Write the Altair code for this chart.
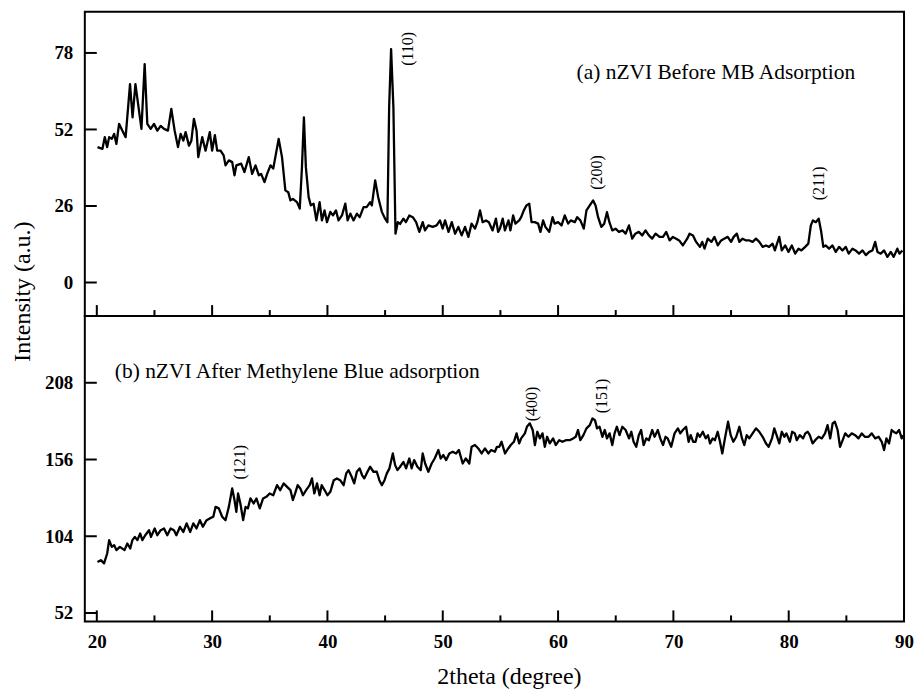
import altair as alt
import pandas as pd

# ---- XRD pattern (a): nZVI before MB adsorption ----
two_theta_a = [
    20.06, 20.49, 20.69, 20.9, 21.07, 21.3, 21.5, 21.7, 21.93, 22.22, 22.5, 22.88, 23.1, 23.35, 23.58,
    23.87, 24.15, 24.38, 24.67, 24.96, 25.25, 25.54, 25.83, 26.17, 26.46, 26.75, 27.04, 27.27, 27.5,
    27.7, 27.99, 28.2, 28.42, 28.65, 28.8, 29.14, 29.43, 29.8, 30.0, 30.24, 30.44, 30.73, 31.0, 31.16,
    31.45, 31.74, 31.94, 32.1, 32.52, 32.8, 33.18, 33.47, 33.76, 34.05, 34.25, 34.54, 34.77, 35.06,
    35.3, 35.77, 36.06, 36.35, 36.6, 36.79, 37.0, 37.36, 37.6, 37.79, 37.96, 38.13, 38.37, 38.56, 38.8,
    39.04, 39.32, 39.52, 39.75, 39.96, 40.25, 40.48, 40.74, 40.96, 41.26, 41.55, 41.75, 41.99, 42.26,
    42.55, 42.8, 43.13, 43.4, 43.7, 43.85, 44.14, 44.4, 44.72, 45.0, 45.2, 45.35, 45.52, 45.72, 45.9,
    46.1, 46.3, 46.59, 46.8, 47.1, 47.4, 47.69, 47.97, 48.26, 48.46, 48.75, 49.12, 49.47, 49.76, 49.99,
    50.2, 50.5, 50.78, 51.07, 51.35, 51.64, 51.93, 52.22, 52.5, 52.8, 53.0, 53.23, 53.46, 53.75, 54.0,
    54.32, 54.61, 54.8, 54.96, 55.2, 55.39, 55.7, 55.87, 56.1, 56.3, 56.63, 56.8, 57.03, 57.26, 57.5,
    57.7, 57.98, 58.27, 58.47, 58.7, 58.9, 59.23, 59.52, 59.7, 60.0, 60.3, 60.58, 60.87, 61.1, 61.45,
    61.65, 61.93, 62.23, 62.46, 62.75, 63.04, 63.25, 63.47, 63.75, 64.0, 64.24, 64.45, 64.7, 64.98,
    65.28, 65.6, 65.86, 66.15, 66.43, 66.7, 67.0, 67.3, 67.58, 67.87, 68.16, 68.45, 68.8, 69.1, 69.38,
    69.67, 69.96, 70.24, 70.5, 70.82, 71.2, 71.4, 71.7, 71.97, 72.3, 72.5, 72.7, 72.98, 73.3, 73.56,
    73.85, 74.14, 74.4, 74.71, 75.0, 75.23, 75.5, 75.72, 76.0, 76.3, 76.6, 76.87, 77.16, 77.45, 77.74,
    78.03, 78.3, 78.6, 78.8, 79.18, 79.4, 79.7, 79.98, 80.27, 80.56, 80.85, 81.1, 81.43, 81.7, 81.92,
    82.1, 82.35, 82.6, 82.8, 83.0, 83.2, 83.5, 83.8, 84.08, 84.37, 84.66, 84.95, 85.2, 85.53, 85.8,
    86.1, 86.4, 86.69, 86.98, 87.26, 87.5, 87.7, 87.98, 88.27, 88.56, 88.85, 89.1, 89.42, 89.6, 89.86,
]
intensity_a = [
    46.0, 45.4, 49.4, 46.0, 49.4, 48.8, 50.5, 47.1, 53.9, 51.6, 49.4, 67.4, 56.1, 67.4, 60.7,
    52.2, 74.2, 53.9, 52.2, 53.9, 51.6, 53.2, 52.2, 51.6, 59.0, 51.6, 46.0, 50.5, 48.2,
    51.1, 46.5, 48.2, 55.6, 51.6, 42.6, 49.4, 44.8, 51.1, 44.8, 50.1, 44.8, 44.8, 43.2, 39.8,
    41.5, 40.9, 36.4, 39.8, 40.4, 37.5, 42.6, 36.9, 39.8, 36.4, 36.9, 34.1, 36.9, 39.8,
    38.7, 48.8, 42.6, 31.3, 30.7, 27.9, 28.4, 27.3, 25.1, 39.2, 56.1, 39.2, 29.0, 26.2, 26.8,
    21.1, 27.3, 21.1, 24.5, 20.5, 24.0, 22.8, 24.5, 21.1, 22.8, 26.8, 21.1, 23.4, 21.1,
    23.4, 22.2, 25.6, 25.6, 27.3, 26.2, 34.7, 29.0, 24.0, 21.7, 20.5, 59.5, 79.3, 59.5, 16.6,
    20.5, 19.9, 21.7, 20.5, 22.8, 22.2, 20.5, 17.2, 20.5, 17.7, 19.4, 18.9, 19.4, 21.1, 18.3,
    21.1, 17.2, 20.5, 16.6, 18.9, 16.0, 18.9, 15.5, 20.0, 18.3, 20.5, 24.5, 20.5, 21.1, 20.5,
    17.7, 21.7, 17.2, 18.3, 21.7, 17.7, 21.1, 17.7, 22.8, 20.0, 21.1, 22.2, 24.5, 26.2, 26.8,
    20.5, 20.5, 20.0, 17.2, 21.1, 18.9, 17.2, 22.2, 20.0, 20.5, 19.4, 22.8, 20.0, 21.1, 20.5,
    22.2, 21.1, 18.3, 24.5, 26.2, 27.9, 26.2, 22.2, 18.9, 20.0, 23.9, 20.5, 17.7, 18.3,
    17.2, 17.7, 16.6, 19.4, 14.9, 16.6, 17.2, 16.0, 17.7, 16.0, 14.9, 16.6, 15.5, 15.5, 17.2,
    14.3, 15.5, 14.9, 14.3, 12.6, 14.9, 16.6, 16.0, 13.8, 12.1, 13.8, 11.5, 14.9, 13.8, 15.5,
    12.6, 14.3, 14.9, 15.5, 13.8, 15.5, 16.6, 13.8, 14.9, 14.3, 14.3, 13.8, 14.9, 13.8, 12.1,
    12.6, 12.1, 13.2, 10.9, 15.5, 10.9, 12.6, 10.4, 12.6, 9.8, 11.5, 10.9, 12.1, 13.2, 19.4,
    21.1, 20.5, 21.7, 17.7, 12.1, 12.6, 11.5, 12.6, 10.4, 12.1, 10.9, 12.1, 9.8, 11.5, 10.9,
    9.8, 10.9, 9.3, 10.4, 10.9, 13.8, 10.4, 9.8, 10.9, 8.7, 10.4, 8.7, 11.5, 9.8, 10.9,
]

# ---- XRD pattern (b): nZVI after methylene blue adsorption ----
two_theta_b = [
    20.06, 20.35, 20.63, 20.9, 21.07, 21.3, 21.5, 21.7, 22.0, 22.4, 22.65, 22.9, 23.09, 23.3, 23.52,
    23.76, 23.95, 24.2, 24.53, 24.7, 25.02, 25.25, 25.54, 25.83, 26.11, 26.4, 26.69, 26.9, 27.21, 27.5,
    27.79, 28.1, 28.37, 28.65, 28.94, 29.2, 29.52, 29.8, 30.1, 30.3, 30.58, 30.87, 31.16, 31.45, 31.74,
    31.94, 32.1, 32.25, 32.45, 32.69, 32.9, 33.1, 33.32, 33.6, 33.84, 34.13, 34.42, 34.7, 34.99, 35.3,
    35.63, 35.9, 36.2, 36.5, 36.79, 37.0, 37.2, 37.42, 37.65, 37.88, 38.15, 38.46, 38.66, 38.86, 39.1,
    39.32, 39.5, 39.75, 40.0, 40.25, 40.55, 40.82, 41.1, 41.4, 41.63, 41.83, 42.1, 42.32, 42.55, 42.79,
    43.0, 43.19, 43.4, 43.7, 43.99, 44.28, 44.5, 44.72, 44.95, 45.15, 45.38, 45.67, 45.87, 46.07, 46.3,
    46.59, 46.82, 47.1, 47.3, 47.52, 47.8, 48.09, 48.26, 48.47, 48.75, 49.04, 49.3, 49.62, 49.82, 50.05,
    50.3, 50.57, 50.86, 51.15, 51.4, 51.73, 52.0, 52.3, 52.5, 52.79, 53.08, 53.37, 53.66, 53.95, 54.2,
    54.52, 54.7, 54.9, 55.1, 55.4, 55.68, 55.9, 56.17, 56.4, 56.63, 56.8, 57.12, 57.3, 57.55, 57.8,
    57.99, 58.2, 58.42, 58.65, 58.85, 59.05, 59.28, 59.57, 59.8, 60.1, 60.38, 60.67, 61.0, 61.3, 61.53,
    61.73, 61.93, 62.2, 62.46, 62.75, 62.98, 63.2, 63.38, 63.6, 63.84, 64.05, 64.24, 64.47, 64.7, 64.9,
    65.1, 65.33, 65.57, 65.86, 66.15, 66.35, 66.55, 66.78, 67.0, 67.2, 67.42, 67.65, 67.88, 68.16, 68.37,
    68.65, 68.86, 69.1, 69.32, 69.5, 69.81, 70.1, 70.39, 70.6, 70.82, 71.1, 71.32, 71.5, 71.72, 71.92,
    72.1, 72.3, 72.55, 72.8, 73.0, 73.18, 73.4, 73.6, 73.84, 74.04, 74.24, 74.47, 74.74, 74.97, 75.2,
    75.45, 75.72, 75.95, 76.15, 76.36, 76.58, 76.87, 77.16, 77.45, 77.74, 78.03, 78.26, 78.55, 78.75,
    78.95, 79.18, 79.4, 79.62, 79.8, 80.1, 80.3, 80.53, 80.7, 80.96, 81.25, 81.44, 81.65, 81.83, 82.07,
    82.3, 82.6, 82.87, 83.15, 83.37, 83.6, 83.81, 84.0, 84.24, 84.45, 84.68, 84.9, 85.18, 85.47, 85.76,
    86.05, 86.34, 86.6, 86.92, 87.2, 87.5, 87.8, 88.07, 88.27, 88.47, 88.7, 88.93, 89.1, 89.33, 89.57,
    89.8, 89.9,
]
intensity_b = [
    86.6, 87.8, 85.6, 92.3, 101.4, 96.8, 98.0, 94.6, 96.8, 94.6, 99.1, 95.7, 101.4, 103.6, 101.4,
    105.9, 101.4, 104.7, 108.1, 103.6, 109.3, 104.7, 108.1, 109.3, 104.7, 109.3, 108.1, 104.7, 110.4, 106.9,
    112.7, 106.9, 112.7, 109.3, 114.9, 110.4, 114.9, 116.1, 117.2, 123.9, 122.9, 117.2, 114.9, 123.9, 136.4,
    128.5, 120.5, 133.0, 126.2, 114.9, 123.9, 122.9, 129.6, 126.2, 129.6, 122.9, 129.6, 130.7, 133.0, 131.8,
    138.6, 135.2, 139.8, 137.5, 135.3, 128.5, 133.0, 138.6, 136.4, 131.8, 135.3, 138.6, 143.2, 133.0, 139.8,
    131.8, 138.6, 135.3, 131.8, 134.1, 142.0, 143.2, 142.0, 138.6, 146.6, 148.8, 144.3, 139.8, 147.7, 150.0,
    145.5, 143.2, 146.6, 151.1, 147.7, 147.7, 142.0, 138.6, 142.0, 146.6, 150.0, 160.1, 152.2, 148.8, 151.1,
    154.4, 150.0, 156.7, 150.0, 155.6, 151.1, 148.8, 160.1, 153.3, 147.7, 153.3, 156.7, 162.4, 156.7, 159.0,
    155.6, 160.1, 161.3, 160.1, 162.4, 153.3, 156.7, 153.3, 164.6, 165.8, 163.5, 160.1, 163.5, 160.1, 162.4,
    161.3, 164.6, 164.6, 168.0, 160.1, 163.5, 165.8, 168.0, 173.7, 166.9, 170.3, 173.7, 178.2, 180.5, 176.0,
    165.8, 174.8, 170.3, 173.7, 164.6, 171.4, 166.9, 170.3, 165.8, 169.1, 168.0, 169.1, 169.1, 170.3, 171.4,
    176.0, 169.1, 172.5, 177.1, 179.3, 183.8, 182.7, 177.1, 178.2, 171.4, 176.0, 170.3, 173.7, 165.8, 173.7,
    178.2, 172.5, 178.2, 176.0, 170.3, 174.8, 168.0, 164.6, 172.5, 176.0, 165.8, 170.3, 169.1, 176.0, 171.4,
    176.0, 170.3, 165.8, 171.4, 170.3, 164.6, 173.7, 177.1, 173.7, 176.0, 178.2, 168.0, 172.5, 168.0, 168.0,
    173.7, 171.4, 174.8, 170.3, 172.5, 166.9, 170.3, 169.1, 174.8, 168.0, 160.1, 170.3, 181.6, 172.5, 168.0,
    171.4, 178.2, 170.3, 165.8, 172.5, 170.3, 173.7, 177.1, 174.8, 171.4, 166.9, 164.6, 170.3, 177.1,
    172.5, 166.9, 174.8, 171.4, 173.7, 168.0, 174.8, 173.7, 169.1, 172.5, 170.3, 173.7, 174.8, 172.5, 166.9,
    169.1, 171.4, 170.3, 173.7, 179.3, 170.3, 180.5, 181.6, 176.0, 164.6, 169.1, 173.7, 171.4, 173.7, 172.5,
    170.3, 173.7, 171.4, 171.4, 173.7, 170.3, 171.4, 168.0, 162.4, 170.3, 166.9, 176.0, 174.8, 173.7, 176.0,
    170.3, 172.5,
]

# ---- axis ticks ----
x_major = [20, 30, 40, 50, 60, 70, 80, 90]
x_minor = [25, 35, 45, 55, 65, 75, 85]
y_ticks_a = [0, 26, 52, 78]
y_ticks_b = [52, 104, 156, 208]

# ---- Miller-index annotations ----
hkl_a = ["(110)", "(200)", "(211)"]
hkl_a_x = [47.0, 63.35, 82.65]
hkl_a_y = [79.4, 37.4, 33.7]
hkl_b = ["(121)", "(400)", "(151)"]
hkl_b_x = [32.45, 57.7, 63.78]
hkl_b_y = [154.2, 193.6, 199.0]

caption_a = "(a) nZVI Before MB Adsorption"
caption_b = "(b) nZVI After Methylene Blue adsorption"

SERIF = "Liberation Serif"
W = 821
H_TOP = 305
H_BOT = 306
x_scale = alt.Scale(domain=[18.96, 90], nice=False, zero=False)


def panel(xs, ys, y_domain, y_ticks, hkl, hkl_x, hkl_y, caption, cap_x, cap_y, height, bottom):
    y_scale = alt.Scale(domain=y_domain, nice=False, zero=False)
    df = pd.DataFrame({"two_theta": xs, "intensity": ys})

    if bottom:
        x_axis = alt.Axis(
            values=x_major, ticks=False, tickSize=0, domain=False, grid=False,
            labelFont=SERIF, labelFontWeight="bold", labelFontSize=19, labelColor="black",
            labelPadding=11, labelFlush=False,
            title="2theta (degree)", titleFont=SERIF, titleFontWeight="normal",
            titleFontSize=24, titleColor="black", titleX=425, titleY=55,
            titleAlign="center", titleBaseline="middle",
        )
        y_title = None
    else:
        x_axis = alt.Axis(labels=False, ticks=False, domain=False, grid=False, title=None)
        y_title = "Intensity (a.u.)"

    y_axis_kw = dict(
        values=y_ticks, ticks=False, tickSize=0, domain=False, grid=False,
        labelFont=SERIF, labelFontWeight="bold", labelFontSize=19, labelColor="black",
        labelPadding=12, labelFlush=False,
    )
    if y_title:
        y_axis = alt.Axis(
            title=y_title, titleFont=SERIF, titleFontWeight="normal", titleFontSize=24,
            titleColor="black", titleAngle=270, titleX=-62, titleY=280,
            titleAlign="center", titleBaseline="middle", **y_axis_kw,
        )
    else:
        y_axis = alt.Axis(title=None, **y_axis_kw)

    line = alt.Chart(df).mark_line(
        color="black", strokeWidth=2.3, strokeJoin="round", clip=True
    ).encode(
        x=alt.X("two_theta:Q", scale=x_scale, axis=x_axis),
        y=alt.Y("intensity:Q", scale=y_scale, axis=y_axis),
    )

    # inward-pointing tick marks
    ytick = alt.Chart(pd.DataFrame({"v": y_ticks})).mark_rule(color="black", strokeWidth=2).encode(
        y=alt.Y("v:Q", scale=y_scale), x=alt.value(0), x2=alt.value(12)
    )
    xmaj = alt.Chart(pd.DataFrame({"v": x_major})).mark_rule(color="black", strokeWidth=2).encode(
        x=alt.X("v:Q", scale=x_scale), y=alt.value(height), y2=alt.value(height - 11)
    )
    xmin = alt.Chart(pd.DataFrame({"v": x_minor})).mark_rule(color="black", strokeWidth=2).encode(
        x=alt.X("v:Q", scale=x_scale), y=alt.value(height), y2=alt.value(height - 6)
    )

    labels = alt.Chart(pd.DataFrame({"t": hkl, "x": hkl_x, "y": hkl_y})).mark_text(
        angle=270, font=SERIF, fontSize=16, color="black", align="center", baseline="middle"
    ).encode(
        x=alt.X("x:Q", scale=x_scale), y=alt.Y("y:Q", scale=y_scale), text="t:N"
    )

    cap = alt.Chart(pd.DataFrame({"t": [caption], "x": [cap_x], "y": [cap_y]})).mark_text(
        font=SERIF, fontSize=21.5, color="black", align="left", baseline="middle"
    ).encode(
        x=alt.X("x:Q", scale=x_scale), y=alt.Y("y:Q", scale=y_scale), text="t:N"
    )

    return alt.layer(line, ytick, xmaj, xmin, labels, cap).properties(width=W, height=height)


top = panel(two_theta_a, intensity_a, [-11.4, 92], y_ticks_a, hkl_a, hkl_a_x, hkl_a_y,
            caption_a, 61.6, 71.3, H_TOP, bottom=False)
bot = panel(two_theta_b, intensity_b, [46.3, 253.2], y_ticks_b, hkl_b, hkl_b_x, hkl_b_y,
            caption_b, 21.56, 215.3, H_BOT, bottom=True)

chart = alt.vconcat(top, bot, spacing=0, bounds="flush").properties(
    padding={"left": 10, "top": 10, "right": 2, "bottom": 2},
    background="white",
).configure_view(stroke="black", strokeWidth=2)

chart.save("out.html", embed_options={"renderer": "svg", "actions": False})
